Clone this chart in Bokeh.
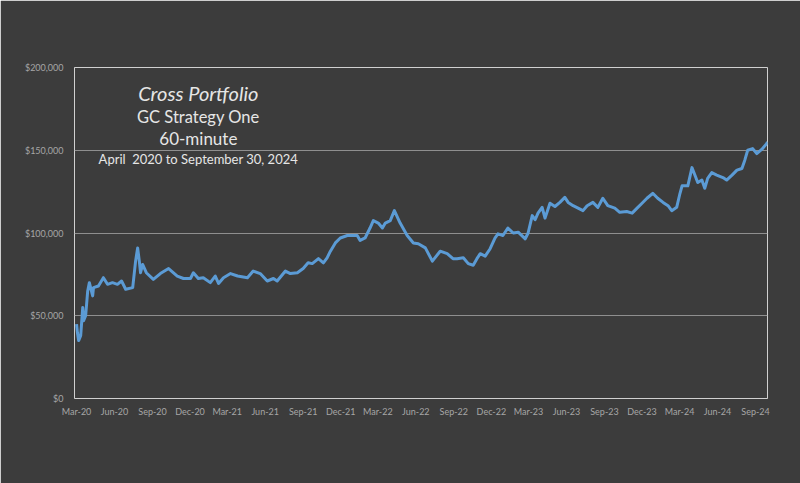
import pandas as pd
from bokeh.plotting import figure
from bokeh.models import FixedTicker, DatetimeTickFormatter, NumeralTickFormatter, Label, Range1d
from bokeh.embed import file_html
from bokeh.resources import INLINE

dates = [
    "2020-03-01", "2020-03-03", "2020-03-06", "2020-03-11", "2020-03-16", "2020-03-18", "2020-03-23",
    "2020-03-28", "2020-04-01", "2020-04-09", "2020-04-11", "2020-04-23", "2020-05-05", "2020-05-15",
    "2020-05-27", "2020-06-08", "2020-06-18", "2020-06-28", "2020-07-15", "2020-07-22", "2020-07-27",
    "2020-07-31", "2020-08-03", "2020-08-08", "2020-08-17", "2020-09-03", "2020-09-20", "2020-10-10",
    "2020-10-31", "2020-11-15", "2020-12-02", "2020-12-09", "2020-12-21", "2021-01-02", "2021-01-19",
    "2021-01-31", "2021-02-08", "2021-02-20", "2021-03-09", "2021-03-26", "2021-04-19", "2021-05-03",
    "2021-05-20", "2021-06-06", "2021-06-21", "2021-06-30", "2021-07-20", "2021-08-01", "2021-08-18",
    "2021-09-01", "2021-09-13", "2021-09-23", "2021-10-08", "2021-10-20", "2021-10-29", "2021-11-06",
    "2021-11-18", "2021-11-30", "2021-12-17", "2022-01-10", "2022-01-17", "2022-01-29", "2022-02-10",
    "2022-02-18", "2022-03-02", "2022-03-12", "2022-03-19", "2022-03-31", "2022-04-10", "2022-04-24",
    "2022-05-11", "2022-05-26", "2022-06-07", "2022-06-24", "2022-07-11", "2022-07-30", "2022-08-16",
    "2022-08-30", "2022-09-09", "2022-09-24", "2022-10-06", "2022-10-18", "2022-10-27", "2022-11-04",
    "2022-11-16", "2022-11-28", "2022-12-10", "2022-12-17", "2022-12-29", "2023-01-10", "2023-01-23",
    "2023-02-04", "2023-02-21", "2023-02-28", "2023-03-10", "2023-03-17", "2023-03-24", "2023-04-03",
    "2023-04-10", "2023-04-22", "2023-05-04", "2023-05-16", "2023-05-28", "2023-06-05", "2023-06-17",
    "2023-06-29", "2023-07-11", "2023-07-21", "2023-08-04", "2023-08-16", "2023-08-28", "2023-09-09",
    "2023-09-26", "2023-10-08", "2023-10-25", "2023-11-07", "2023-11-19", "2023-12-01", "2023-12-13",
    "2023-12-27", "2024-01-08", "2024-01-21", "2024-02-02", "2024-02-11", "2024-02-23", "2024-03-02",
    "2024-03-07", "2024-03-21", "2024-03-31", "2024-04-07", "2024-04-14", "2024-04-24", "2024-05-01",
    "2024-05-08", "2024-05-18", "2024-05-30", "2024-06-14", "2024-06-23", "2024-07-06", "2024-07-18",
    "2024-07-30", "2024-08-06", "2024-08-13", "2024-08-25", "2024-09-04", "2024-09-16", "2024-09-28",
    "2024-09-30",
]
equity = [
    45000, 40000, 35000, 38000, 55000, 47000, 50000,
    65000, 70000, 62000, 67000, 68000, 73000, 69000,
    70000, 69000, 71000, 66000, 67000, 83000, 91000,
    83000, 76000, 81000, 76000, 72000, 75500, 78500,
    74000, 72500, 72500, 76000, 72500, 73000, 70000,
    74000, 69500, 73000, 75500, 74000, 73000, 77000,
    75500, 71000, 72500, 71000, 77000, 75500, 76000,
    78500, 82000, 81500, 84500, 82000, 85000, 89000,
    94000, 97000, 98500, 98500, 95500, 97000, 103000,
    107500, 106000, 103000, 106000, 107500, 113500, 106000,
    98500, 94000, 93500, 91000, 83000, 89000, 87500,
    84500, 84500, 85000, 81500, 80500, 84500, 87500,
    86000, 90500, 97000, 99500, 98500, 103000, 100000,
    100500, 96500, 100000, 110500, 108000, 112000, 115500,
    109000, 118000, 116000, 118500, 121500, 118500, 116500,
    115000, 113500, 116500, 118500, 115500, 121000, 116500,
    115000, 112500, 113000, 112000, 115000, 118000, 121000,
    124000, 121000, 118500, 116500, 113500, 115500, 124000,
    128500, 128500, 139500, 135000, 130500, 132000, 127000,
    133000, 136500, 135000, 133500, 132000, 135000, 138000,
    139000, 144000, 150000, 151000, 148000, 150500, 154000,
    155000,
]

tick_dates = [
    "2020-03-01", "2020-06-01", "2020-09-01", "2020-12-01", "2021-03-01", "2021-06-01",
    "2021-09-01", "2021-12-01", "2022-03-01", "2022-06-01", "2022-09-01", "2022-12-01",
    "2023-03-01", "2023-06-01", "2023-09-01", "2023-12-01", "2024-03-01", "2024-06-01",
    "2024-09-01",
]
y_ticks = [0, 50000, 100000, 150000, 200000]

title_lines = ["Cross Portfolio", "GC Strategy One", "60-minute", "April\u00a0 2020 to September 30, 2024"]

BG = "#3c3c3c"
FONT = "Lato"

x = pd.to_datetime(dates)
x0 = pd.Timestamp("2020-02-25")
x1 = pd.Timestamp("2024-09-30")

p = figure(width=800, height=483, x_axis_type="datetime",
           x_range=Range1d(x0, x1), y_range=Range1d(0, 200000),
           output_backend="svg", toolbar_location=None,
           min_border_left=74, min_border_right=33, min_border_top=67, min_border_bottom=85)
p.background_fill_color = BG
p.border_fill_color = BG
p.outline_line_color = "#d0d0d0"
p.outline_line_width = 1

p.line(x, equity, line_color="#5b9bd5", line_width=3, line_join="round")

tick_ms = [pd.Timestamp(d).value / 1e6 for d in tick_dates]
p.xaxis.ticker = FixedTicker(ticks=tick_ms)
fmt = "%b-%y"
p.xaxis.formatter = DatetimeTickFormatter(days=fmt, months=fmt, years=fmt, hours=fmt, minutes=fmt)
p.yaxis.ticker = FixedTicker(ticks=y_ticks)
p.yaxis.formatter = NumeralTickFormatter(format="$0,0")

for ax in (p.xaxis, p.yaxis):
    ax.axis_line_color = None
    ax.major_tick_line_color = None
    ax.minor_tick_line_color = None
    ax.major_label_text_color = "#a6a6a6"
    ax.major_label_text_font = FONT
    ax.major_label_text_font_size = "9px"
p.xaxis.major_label_standoff = 1
p.yaxis.major_label_standoff = 5

p.xgrid.grid_line_color = None
p.ygrid.grid_line_color = "#8f8f8f"
p.ygrid.grid_line_width = 1

cx = pd.Timestamp("2020-12-21")
ys = [184500, 170000, 157000, 145000]
sizes = ["20px", "16.5px", "17px", "13px"]
styles = ["italic", "normal", "normal", "normal"]
for txt, yy, sz, st in zip(title_lines, ys, sizes, styles):
    p.add_layout(Label(x=cx, y=yy, text=txt, text_align="center", text_baseline="middle",
                       text_color="#e6e6e6", text_font=FONT, text_font_size=sz,
                       text_font_style=st))

open("out.html", "w").write(file_html(p, INLINE))
